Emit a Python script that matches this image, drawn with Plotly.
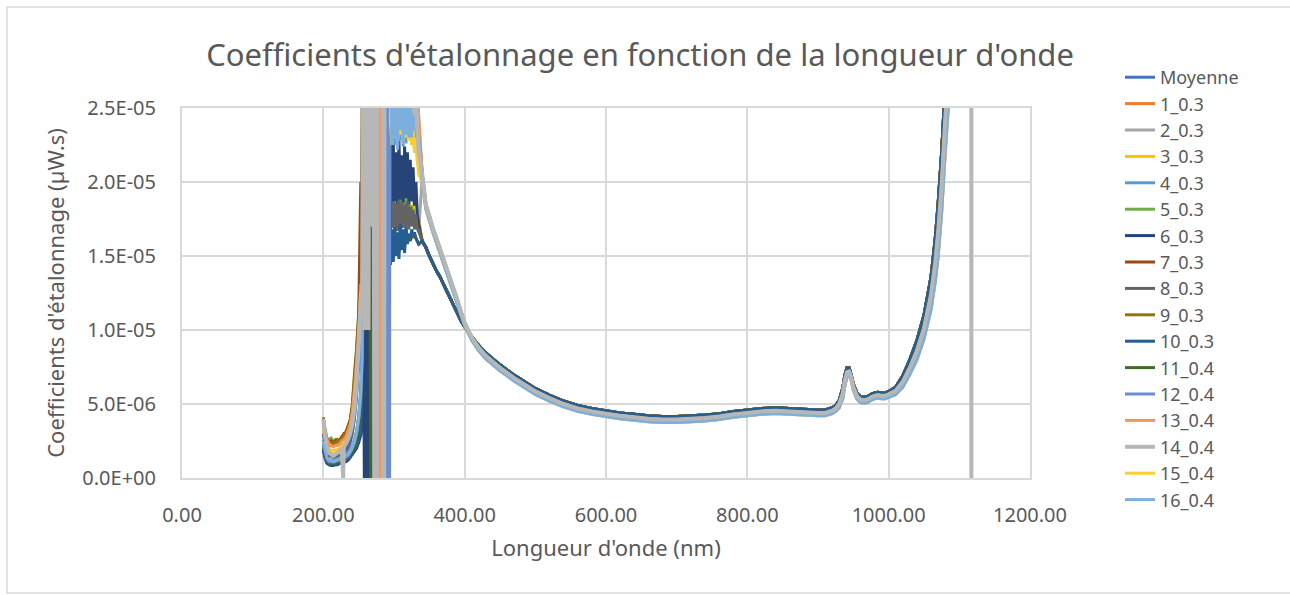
import plotly.graph_objects as go

# ---------------- DATA (values in units of 1e-6 µW.s) ----------------
SCALE = 1e-6

names = ["Moyenne", "1_0.3", "2_0.3", "3_0.3", "4_0.3", "5_0.3", "6_0.3", "7_0.3", "8_0.3",
         "9_0.3", "10_0.3", "11_0.4", "12_0.4", "13_0.4", "14_0.4", "15_0.4", "16_0.4"]
colors = ["#4472C4", "#ED7D31", "#A5A5A5", "#FFC000", "#5B9BD5", "#70AD47", "#264478", "#9E480E",
          "#636363", "#997300", "#255E91", "#43682B", "#698ED0", "#F1975A", "#B7B7B7", "#FFCD33", "#7CAFDD"]

# low UV part (shared wavelengths)
w_low = [200, 202, 205, 208, 211, 214, 217, 220, 223, 226, 228, 229, 232, 235, 238, 241, 244, 247, 250, 253]
low_moy = [3.0, 2.5, 1.8, 1.5, 1.5, 1.4, 1.4, 1.5, 1.5, 1.6, 1.7, 1.7, 1.8, 2.0, 2.4, 3.0, 4.2, 5.8, 8.0, 11.0]
low_s1 = [3.7, 3.1, 2.4, 2.1, 2.3, 2.2, 2.3, 2.3, 2.5, 2.6, 2.7, 2.7, 2.9, 3.3, 3.7, 4.5, 6.4, 8.2, 10.5, 13.5]
low_s2 = [3.2, 2.7, 2.0, 1.7, 1.6, 1.5, 1.6, 1.6, 1.7, 1.9, 1.9, 2.0, 2.2, 2.4, 2.8, 3.4, 4.4, 6.0, 8.4, 11.8]
low_s3 = [3.5, 2.9, 2.2, 1.9, 1.9, 1.8, 1.9, 1.9, 2.0, 2.2, 2.3, 2.3, 2.5, 2.8, 3.2, 3.9, 5.2, 7.0, 9.4, 12.5]
low_s4 = [2.6, 2.1, 1.5, 1.3, 1.2, 1.2, 1.2, 1.3, 1.4, 1.5, 1.5, 1.5, 1.6, 1.7, 1.9, 2.2, 2.6, 3.2, 4.2, 6.0]
low_s5 = [3.6, 3.0, 2.6, 2.6, 2.7, 2.5, 2.6, 2.4, 2.6, 2.7, 2.8, 2.8, 3.1, 3.5, 3.9, 5.0, 7.0, 8.8, 11.2, 14.0]
low_s6 = [1.9, 1.4, 1.0, 0.9, 0.85, 0.85, 0.9, 0.9, 1.0, 1.0, 1.05, 1.1, 1.1, 1.2, 1.4, 1.6, 1.8, 2.0, 2.4, 2.9]
low_s7 = [3.8, 3.2, 2.5, 2.2, 2.5, 2.4, 2.5, 2.6, 2.5, 2.8, 2.9, 3.0, 3.1, 3.5, 3.9, 4.8, 6.8, 8.5, 11.0, 20.0]
low_s8 = [3.0, 2.5, 1.8, 1.5, 1.5, 1.4, 1.5, 1.5, 1.6, 1.7, 1.8, 1.8, 1.9, 2.2, 2.6, 3.1, 4.0, 5.5, 7.8, 11.0]
low_s9 = [4.1, 3.4, 2.7, 2.3, 2.4, 2.3, 2.4, 2.5, 2.6, 2.7, 2.8, 2.9, 3.0, 3.4, 3.8, 4.6, 6.2, 8.0, 10.2, 13.0]
low_s10 = [2.0, 1.5, 1.1, 0.9, 0.9, 0.9, 0.9, 1.0, 1.0, 1.1, 1.15, 1.2, 1.2, 1.3, 1.5, 1.7, 1.9, 2.1, 2.6, 3.2]
low_s11 = [2.2, 1.7, 1.2, 1.0, 1.0, 1.0, 1.0, 1.1, 1.1, 1.2, 1.25, 1.3, 1.3, 1.4, 1.6, 1.8, 2.1, 2.5, 3.2, 4.5]
low_s12 = [2.4, 1.9, 1.3, 1.1, 1.1, 1.1, 1.1, 1.2, 1.2, 1.3, 1.35, 1.4, 1.4, 1.5, 1.7, 2.0, 2.4, 3.0, 4.0, 5.5]
low_s13 = [3.9, 3.3, 2.6, 2.3, 2.2, 2.1, 2.2, 2.2, 2.3, 2.5, 2.55, 2.6, 2.8, 3.2, 3.6, 4.4, 6.0, 7.8, 10.0, 13.0]
low_s14 = [4.0, 3.0, 2.2, 1.7, 1.6, 1.5, 1.6, 1.7, 1.8, 2.0, 0.0, 2.1, 2.3, 2.6, 3.0, 3.6, 4.6, 6.3, 8.8, 12.0]
low_s15 = [3.4, 2.8, 2.1, 1.8, 1.8, 1.7, 1.8, 1.8, 1.9, 2.1, 2.15, 2.2, 2.4, 2.7, 3.1, 3.8, 5.0, 6.8, 9.2, 12.3]
low_s16 = [2.5, 2.0, 1.4, 1.2, 1.2, 1.1, 1.2, 1.2, 1.3, 1.4, 1.45, 1.5, 1.5, 1.6, 1.8, 2.1, 2.5, 3.1, 4.0, 5.8]

# saturated UV region 254-294 nm (own wavelengths per series)
cw_moy, cv_moy = [255, 256, 294], [12, 40, 40]
cw_s1, cv_s1 = [255, 257, 294], [14, 40, 40]
cw_s2, cv_s2 = [254.5, 256.5, 294], [13, 40, 40]
cw_s3, cv_s3 = [255, 257, 294], [13, 40, 40]
cw_s4, cv_s4 = [255, 256, 294], [8, 40, 40]
cw_s5, cv_s5 = [254.5, 256, 294], [15, 40, 40]
cw_s6 = [255, 257, 258, 259, 260, 261, 262, 263, 264, 265, 266, 294]
cv_s6 = [4, 10, 0, 10, 0, 10, 0, 10, 0, 10, 40, 40]
cw_s7, cv_s7 = [254, 256, 294], [12, 40, 40]
cw_s8, cv_s8 = [255, 257, 294], [13, 40, 40]
cw_s9, cv_s9 = [255, 257, 294], [14, 40, 40]
cw_s10, cv_s10 = [255, 256, 294], [8, 40, 40]
cw_s11 = [255, 266, 267, 268, 269, 270, 271, 272, 294]
cv_s11 = [9, 17, 0, 17, 0, 17, 0, 40, 40]
cw_s12 = [255, 287.5, 288.2, 288.9, 289.6, 290.3, 291, 291.7, 292.4, 293.1, 293.8, 294]
cv_s12 = [10, 40, 0, 40, 0, 40, 0, 40, 0, 40, 0, 40]
cw_s13 = [255, 276.5, 277.2, 277.9, 278.6, 279.3, 280, 280.7, 281.4, 282.1, 282.8, 283.5, 294]
cv_s13 = [13, 40, 0, 40, 0, 40, 0, 40, 0, 40, 0, 40, 40]
cw_s14 = [255, 257, 258, 259, 260, 261, 262, 263, 264, 265, 266, 267, 268, 269, 270, 271,
          272, 273, 274, 275, 276, 276.5, 284, 284.7, 285.4, 286.1, 286.8, 294]
cv_s14 = [12, 40, 10, 40, 10, 40, 10, 40, 10, 40, 17, 40, 17, 40, 17, 40,
          0, 40, 0, 40, 0, 40, 40, 0, 40, 0, 40, 40]
cw_s15, cv_s15 = [255, 257, 294], [13, 40, 40]
cw_s16, cv_s16 = [255, 256, 294], [8, 40, 40]

# noisy region 295-335 nm (shared wavelengths)
w_mid = [295, 297, 299, 301, 303, 305, 307, 309, 311, 313, 315, 317, 319, 321, 323, 325, 327, 329, 331, 333, 335]
mid_moy = [17.5, 18.0, 17.6, 18.2, 17.8, 18.0, 17.5, 18.3, 17.7, 18.0, 17.6, 18.1, 17.8, 17.9, 17.6, 17.8, 17.5, 17.4, 17.2, 17.0, 16.8]
mid_s1 = [18.6, 18.0, 18.8, 18.2, 19.0, 18.4, 18.7, 18.1, 18.9, 18.3, 18.6, 18.0, 18.5, 18.2, 18.4, 18.0, 18.2, 17.8, 17.6, 17.3, 17.0]
mid_s2 = [17.0, 17.8, 17.2, 17.9, 17.3, 17.7, 17.1, 17.8, 17.4, 17.6, 17.2, 17.9, 17.5, 17.6, 17.4, 17.5, 17.2, 17.1, 17.0, 16.8, 16.6]
mid_s3 = [19.5, 18.8, 19.8, 19.0, 19.6, 18.9, 19.9, 19.2, 19.5, 18.8, 19.6, 19.0, 19.3, 18.9, 19.1, 18.7, 18.8, 18.4, 18.2, 17.8, 17.4]
mid_s4 = [26.5, 22.0, 28.0, 22.5, 27.5, 22.2, 28.5, 22.8, 27.0, 22.4, 27.8, 22.6, 28.2, 23.0, 26.5, 22.5, 25.5, 22.0, 24.5, 21.5, 21.0]
mid_s5 = [18.2, 18.9, 18.4, 19.1, 18.3, 18.8, 18.5, 19.0, 18.2, 18.7, 18.4, 18.9, 18.3, 18.6, 18.2, 18.4, 18.0, 17.8, 17.5, 17.2, 16.9]
mid_s6 = [21.5, 18.5, 22.5, 18.7, 22.0, 18.4, 22.8, 18.8, 21.8, 18.6, 22.4, 18.9, 22.0, 18.5, 21.5, 18.7, 21.0, 18.4, 20.0, 17.8, 17.2]
mid_s7 = [18.2, 17.6, 18.6, 17.8, 18.4, 17.5, 18.7, 17.9, 18.3, 17.6, 18.5, 17.8, 18.2, 17.5, 18.0, 17.6, 17.8, 17.4, 17.3, 17.0, 16.7]
mid_s8 = [18.6, 16.9, 18.7, 17.0, 18.5, 16.7, 18.8, 17.2, 18.6, 16.9, 18.5, 17.0, 18.7, 16.8, 18.3, 17.0, 18.1, 16.8, 17.8, 16.9, 16.8]
mid_s9 = [15.2, 16.5, 15.0, 16.8, 15.5, 16.4, 15.3, 16.9, 15.8, 16.6, 15.6, 16.8, 16.0, 16.5, 16.2, 16.6, 16.3, 16.4, 16.2, 16.0, 15.8]
mid_s10 = [14.4, 16.8, 14.6, 17.0, 15.0, 16.6, 14.8, 17.2, 15.4, 16.8, 15.2, 17.0, 15.8, 16.5, 16.0, 16.8, 16.3, 16.6, 16.2, 16.0, 15.8]
mid_s11 = [28.5, 26.5, 29.5, 27.0, 29.0, 26.5, 29.5, 27.0, 28.5, 26.8, 29.0, 27.0, 28.5, 26.5, 28.0, 26.5, 27.5, 26.0, 26.5, 25.0, 23.5]
mid_s12 = [29.0, 27.0, 30.0, 27.5, 29.5, 27.0, 30.0, 27.5, 29.0, 27.2, 29.5, 27.5, 29.0, 27.0, 28.5, 27.0, 28.0, 26.5, 27.0, 25.5, 24.0]
mid_s13 = [30.0, 28.0, 31.0, 28.5, 30.5, 28.0, 31.0, 28.5, 30.0, 28.2, 30.5, 28.5, 30.0, 28.0, 29.5, 28.0, 29.0, 27.5, 28.0, 26.0, 24.5]
mid_s14 = [30.0, 26.0, 31.0, 27.0, 30.0, 25.5, 31.0, 27.0, 30.0, 26.0, 31.0, 27.0, 30.0, 26.5, 30.0, 25.5, 29.0, 24.5, 27.0, 23.5, 22.0]
mid_s15 = [24.0, 22.5, 25.0, 23.0, 24.5, 22.2, 25.5, 23.2, 24.0, 22.6, 25.0, 23.0, 24.2, 22.8, 24.0, 22.5, 23.5, 22.0, 23.0, 21.5, 20.5]
mid_s16 = [28.0, 22.5, 30.0, 23.0, 29.0, 22.2, 30.0, 23.5, 28.0, 22.6, 29.0, 23.2, 30.0, 23.0, 28.0, 23.0, 28.0, 23.5, 27.0, 24.0, 23.0]

# smooth part 340-1117 nm (shared wavelengths)
w_hi = [340, 345, 350, 355, 360, 365, 370, 375, 380, 385, 390, 395, 400, 410, 420, 430, 440, 450, 460, 470,
        480, 490, 500, 520, 540, 560, 580, 600, 620, 640, 660, 680, 700, 720, 740, 760, 780, 800, 820, 840,
        860, 880, 900, 910, 920, 925, 930, 935, 938, 941, 944, 947, 950, 955, 960, 965, 970, 975, 980, 985,
        990, 995, 1000, 1010, 1020, 1030, 1040, 1050, 1060, 1066, 1070, 1075, 1080, 1090, 1100, 1110, 1117]
hi_dark = [16.0, 15.6, 15.0, 14.5, 14.0, 13.6, 13.1, 12.6, 12.1, 11.6, 11.1, 10.6, 10.2, 9.55, 8.95, 8.45, 8.05, 7.65, 7.3, 6.95,
           6.65, 6.35, 6.05, 5.6, 5.2, 4.9, 4.7, 4.55, 4.4, 4.3, 4.2, 4.15, 4.15, 4.2, 4.25, 4.35, 4.5, 4.6, 4.7, 4.75,
           4.7, 4.65, 4.6, 4.6, 4.75, 4.9, 5.25, 6.05, 6.95, 7.45, 7.45, 6.95, 6.35, 5.75, 5.5, 5.45, 5.5, 5.65, 5.75, 5.8,
           5.75, 5.75, 5.85, 6.15, 6.9, 8.0, 9.3, 11.0, 13.6, 16.2, 18.5, 22.0, 26.5, 34.0, 43.0, 53.0, 59.0]
hi_gray = [20.5, 18.5, 17.7, 16.9, 16.2, 15.5, 14.8, 14.1, 13.4, 12.7, 12.0, 11.2, 10.5, 9.5, 8.8, 8.25, 7.85, 7.45, 7.1, 6.75,
           6.45, 6.15, 5.85, 5.4, 5.0, 4.7, 4.5, 4.35, 4.2, 4.1, 4.0, 3.95, 3.95, 4.0, 4.05, 4.15, 4.3, 4.4, 4.5, 4.55,
           4.5, 4.45, 4.4, 4.4, 4.55, 4.7, 5.0, 5.7, 6.6, 7.15, 7.2, 6.8, 6.15, 5.55, 5.3, 5.25, 5.3, 5.45, 5.55, 5.6,
           5.55, 5.55, 5.65, 5.9, 6.5, 7.45, 8.6, 10.1, 12.4, 14.6, 16.6, 19.8, 24.2, 31.5, 40.5, 50.5, 56.5]
hi_light = [20.0, 18.2, 17.4, 16.6, 15.9, 15.2, 14.5, 13.8, 13.1, 12.4, 11.7, 11.0, 10.3, 9.3, 8.6, 8.05, 7.65, 7.25, 6.9, 6.55,
            6.25, 5.95, 5.65, 5.2, 4.8, 4.5, 4.3, 4.15, 4.0, 3.9, 3.8, 3.75, 3.75, 3.8, 3.85, 3.95, 4.1, 4.2, 4.3, 4.35,
            4.3, 4.25, 4.2, 4.2, 4.35, 4.5, 4.75, 5.35, 6.2, 6.85, 6.95, 6.6, 5.95, 5.35, 5.1, 5.05, 5.1, 5.25, 5.35, 5.4,
            5.35, 5.35, 5.45, 5.65, 6.15, 7.0, 8.0, 9.4, 11.4, 13.3, 15.0, 18.0, 22.0, 29.0, 38.0, 48.0, 54.0]
# end of series 14_0.4: drop to zero
tail_w_s14, tail_v_s14 = [1117], [0.0]

y_tickvals = [0, 5e-6, 1e-5, 1.5e-5, 2e-5, 2.5e-5]
y_ticktext = ["0.0E+00", "5.0E-06", "1.0E-05", "1.5E-05", "2.0E-05", "2.5E-05"]
x_tickvals = [0, 200, 400, 600, 800, 1000, 1200]
x_ticktext = ["0.00", "200.00", "400.00", "600.00", "800.00", "1000.00", "1200.00"]

# ---------------- assembly ----------------
series = [
    (low_moy, cw_moy, cv_moy, mid_moy, hi_dark, [], []),
    (low_s1, cw_s1, cv_s1, mid_s1, hi_dark, [], []),
    (low_s2, cw_s2, cv_s2, mid_s2, hi_gray, [], []),
    (low_s3, cw_s3, cv_s3, mid_s3, hi_dark, [], []),
    (low_s4, cw_s4, cv_s4, mid_s4, hi_light, [], []),
    (low_s5, cw_s5, cv_s5, mid_s5, hi_dark, [], []),
    (low_s6, cw_s6, cv_s6, mid_s6, hi_dark, [], []),
    (low_s7, cw_s7, cv_s7, mid_s7, hi_dark, [], []),
    (low_s8, cw_s8, cv_s8, mid_s8, hi_dark, [], []),
    (low_s9, cw_s9, cv_s9, mid_s9, hi_dark, [], []),
    (low_s10, cw_s10, cv_s10, mid_s10, hi_dark, [], []),
    (low_s11, cw_s11, cv_s11, mid_s11, hi_gray, [], []),
    (low_s12, cw_s12, cv_s12, mid_s12, hi_gray, [], []),
    (low_s13, cw_s13, cv_s13, mid_s13, hi_gray, [], []),
    (low_s14, cw_s14, cv_s14, mid_s14, hi_gray, tail_w_s14, tail_v_s14),
    (low_s15, cw_s15, cv_s15, mid_s15, hi_light, [], []),
    (low_s16, cw_s16, cv_s16, mid_s16, hi_light, [], []),
]
# drawing order: 14_0.4 (light grey) is drawn on top; legend keeps the original order
draw_order = [0, 1, 2, 3, 4, 5, 6, 7, 8, 9, 10, 11, 12, 13, 15, 16, 14]

FONT = "Noto Sans"
TXT = "#595959"
GRID = "#D9D9D9"

fig = go.Figure()
for i in draw_order:
    lo, cw, cv, md, hi, tw, tv = series[i]
    xs = w_low + cw + w_mid + w_hi + tw
    ys = [v * SCALE for v in lo + cv + md + hi + tv]
    fig.add_trace(go.Scatter(x=xs, y=ys, mode="lines", name=names[i], legendrank=i + 1,
                             line=dict(color=colors[i], width=4 if i == 14 else 3, simplify=False)))

fig.update_layout(
    width=1290, height=595,
    margin=dict(l=182, r=260, t=108, b=117),
    paper_bgcolor="white", plot_bgcolor="white",
    font=dict(family=FONT, color=TXT),
    title=dict(text="Coefficients d'étalonnage en fonction de la longueur d'onde",
               xref="container", yref="container", x=640 / 1290, xanchor="center",
               y=1 - 55 / 595, yanchor="middle",
               font=dict(family=FONT, size=31, color=TXT)),
    legend=dict(x=(1120 - 182) / 848, xanchor="left", y=(478 - 59) / 370, yanchor="top",
                font=dict(family=FONT, size=18, color=TXT), bgcolor="rgba(0,0,0,0)",
                tracegroupgap=0, itemwidth=30),
    showlegend=True,
    shapes=[dict(type="rect", xref="paper", yref="paper",
                 x0=(7 - 182) / 848, x1=(1300 - 182) / 848,
                 y0=(478 - 593) / 370, y1=(478 - 7) / 370,
                 line=dict(color=GRID, width=1.5), layer="below")],
)
try:
    fig.update_layout(legend_maxheight=560)
except Exception:
    pass

fig.update_xaxes(range=[0, 1200], tickvals=x_tickvals, ticktext=x_ticktext,
                 showgrid=True, gridcolor=GRID, gridwidth=2, zeroline=False,
                 showline=True, linecolor=GRID, linewidth=2, mirror=True, ticks="",
                 ticklabelstandoff=18, tickfont=dict(family=FONT, size=20, color=TXT),
                 title=dict(text="Longueur d'onde (nm)", standoff=14,
                            font=dict(family=FONT, size=22, color=TXT)))
fig.update_yaxes(range=[0, 2.5e-5], tickvals=y_tickvals, ticktext=y_ticktext,
                 showgrid=True, gridcolor=GRID, gridwidth=2, zeroline=False,
                 showline=True, linecolor=GRID, linewidth=2, mirror=True, ticks="",
                 ticklabelstandoff=20, tickfont=dict(family=FONT, size=20, color=TXT),
                 title=dict(text="Coefficients d'étalonnage (µW.s)", standoff=12,
                            font=dict(family=FONT, size=22, color=TXT)))

fig.write_html("out.html")
